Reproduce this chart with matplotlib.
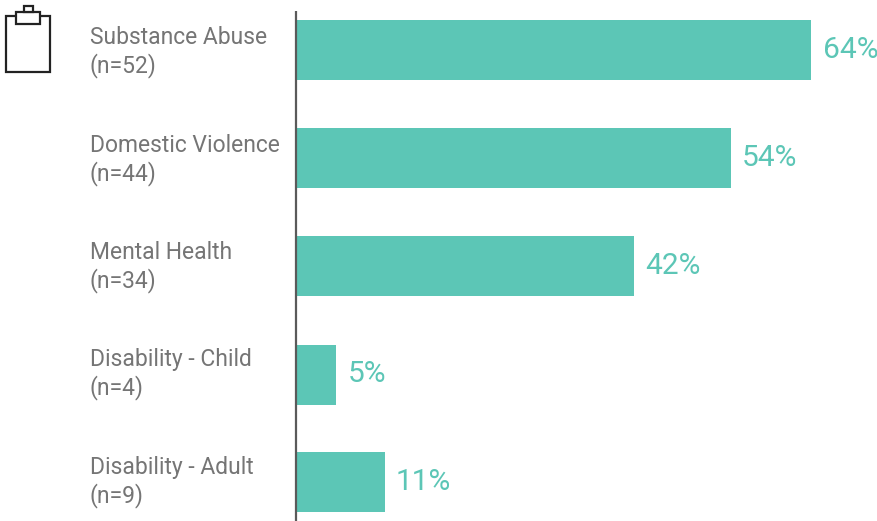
import matplotlib
matplotlib.use("Agg")
import matplotlib.pyplot as plt
from matplotlib.patches import Rectangle

categories = ["Substance Abuse", "Domestic Violence", "Mental Health", "Disability - Child", "Disability - Adult"]
counts = [52, 44, 34, 4, 9]
percents = [64, 54, 42, 5, 11]

W, H = 877, 521
TEAL = "#5CC6B6"
GRAY = "#757575"
SPINE = "#5A5A5A"

plt.rcParams["font.family"] = ["Roboto", "DejaVu Sans"]

fig = plt.figure(figsize=(W / 100, H / 100), dpi=100, facecolor="white")
ax = fig.add_axes((0, 0, 1, 1))
ax.set_xlim(0, W)
ax.set_ylim(H, 0)
ax.axis("off")

X0 = 296
PX_PER_PCT = 8.05
centers = [50, 157.5, 266, 374.5, 482]
LABEL_Y0, LABEL_STEP, LABEL_GAP = 38, 107.3, 28

ax.plot([X0, X0], [11, H], color=SPINE, lw=1.6, solid_capstyle="butt", zorder=3)

bars = ax.barh(centers, [p * PX_PER_PCT for p in percents], left=X0, height=60, color=TEAL, zorder=2)
for i, (bar, pct, name, n, yc) in enumerate(zip(bars, percents, categories, counts, centers)):
    ax.text(bar.get_x() + bar.get_width() + 11.5, yc, f"{pct}%", ha="left", va="center", fontsize=21.5, color=TEAL)
    label_y = LABEL_Y0 + LABEL_STEP * i
    ax.text(89.5, label_y, name, ha="left", va="center", fontsize=16.5, color=GRAY)
    ax.text(89.5, label_y + LABEL_GAP, f"(n={n})", ha="left", va="center", fontsize=16.5, color=GRAY)

# clipboard icon, top left
ax.add_patch(Rectangle((6, 16), 44, 56, fill=False, ec="#222222", lw=1.6))
ax.add_patch(Rectangle((16, 12), 24, 12, fc="white", ec="#222222", lw=1.6, zorder=3))
ax.add_patch(Rectangle((24, 6), 9, 6, fc="white", ec="#222222", lw=1.6, zorder=3))

fig.savefig("out.png", dpi=100, facecolor="white")
